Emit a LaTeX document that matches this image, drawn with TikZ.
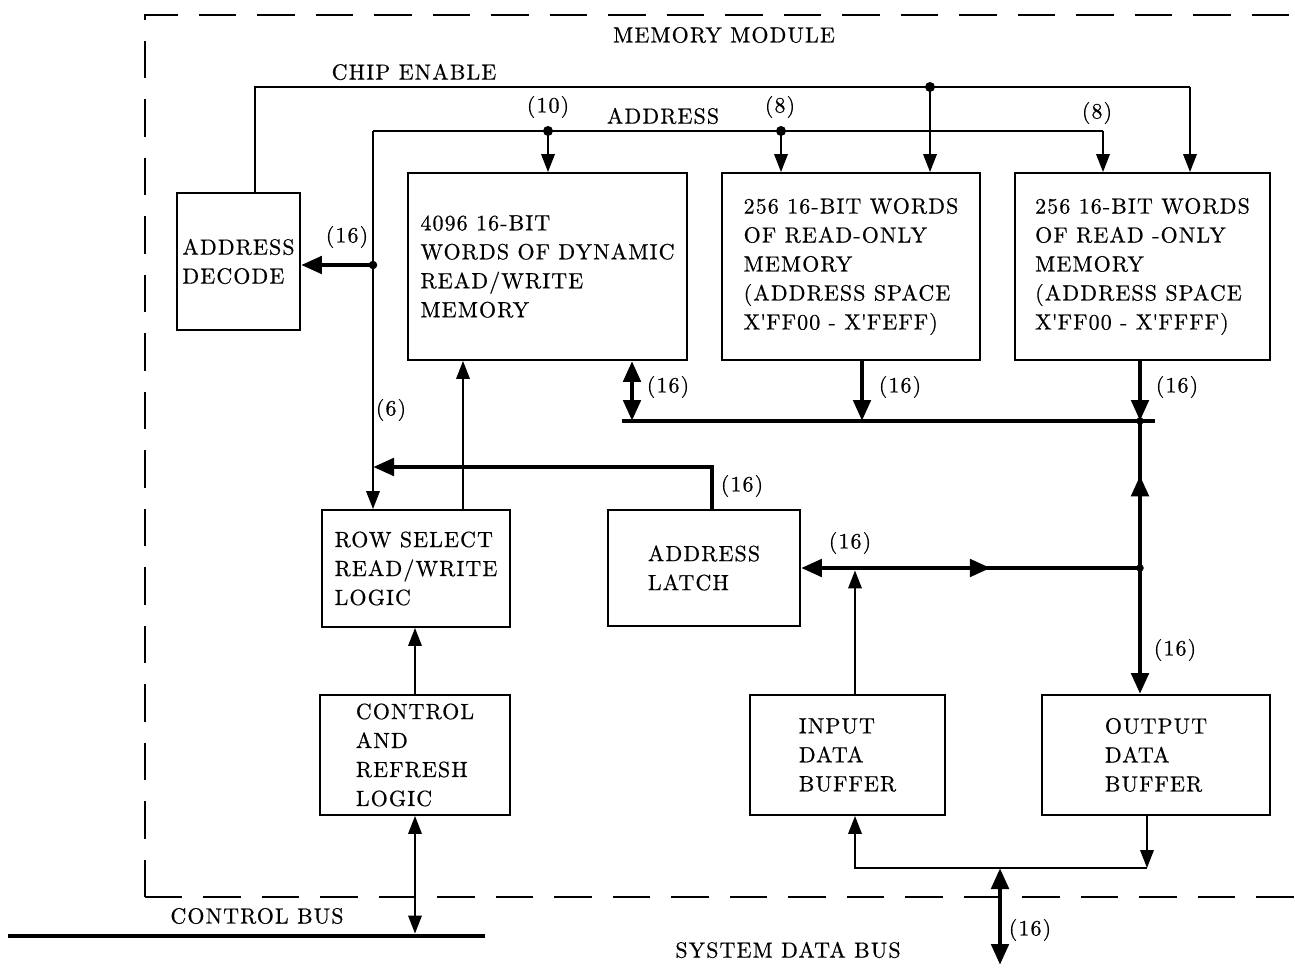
\documentclass[tikz,border=0pt]{standalone}
\usepackage{fontspec}
\setmainfont{lmroman10-regular.otf}[LetterSpace=5, FakeBold=0.6]
\usetikzlibrary{arrows.meta,calc,decorations.markings}

\begin{document}
\begin{tikzpicture}[x=0.02cm, y=-0.02cm,
    font=\fontsize{12.5}{16.5}\selectfont,
    box/.style={draw, line width=1.1pt, align=left, inner sep=0pt},
    lbl/.style={inner sep=1pt},
    wire/.style={line width=1.1pt},
    arr/.style={wire, -{Triangle[length=0.36cm, width=0.27cm]}},
    biarr/.style={wire, {Triangle[length=0.36cm, width=0.27cm]}-{Triangle[length=0.36cm, width=0.27cm]}},
    bus/.style={line width=2.8pt},
    busarr/.style={bus, -{Triangle[length=0.42cm, width=0.34cm]}},
    busbi/.style={bus, {Triangle[length=0.42cm, width=0.34cm]}-{Triangle[length=0.42cm, width=0.34cm]}},
    midtip/.style={postaction={decorate, decoration={markings,
        mark=at position #1 with {\arrow{Triangle[length=0.42cm, width=0.34cm]}}}}},
    midtiprev/.style={postaction={decorate, decoration={markings,
        mark=at position #1 with {\arrowreversed{Triangle[length=0.42cm, width=0.34cm]}}}}},
    dot/.style={circle, fill, inner sep=0pt, minimum size=0.2cm},
    border/.style={line width=1.1pt, dash pattern=on 0.75cm off 0.42cm},
]
\useasboundingbox (0,0) rectangle (1295,969);

% module outline (open to the right)
\coordinate (frameTL) at (145,15);
\coordinate (frameBL) at (145,897);
\draw[border] (frameBL) -- (frameTL) -- (1295,15);
\draw[border] (frameBL) -- (1295,897);
\node[lbl] (title) at (724,35) {MEMORY MODULE};

% blocks
\node[box, minimum width=2.46cm, minimum height=2.74cm] (adec) at (238.5,261.5) {ADDRESS\\DECODE};
\node[box, minimum width=5.58cm, minimum height=3.74cm] (ram) at (547.5,266.5)
    {4096 16-BIT\\WORDS OF DYNAMIC\\READ/WRITE\\MEMORY};
\node[box, minimum width=5.16cm, minimum height=3.74cm] (rom1) at (851,266.5)
    {256 16-BIT WORDS\\OF READ-ONLY\\MEMORY\\(ADDRESS SPACE\\X\textquotesingle FF00 - X\textquotesingle FEFF)};
\node[box, minimum width=5.10cm, minimum height=3.74cm] (rom2) at (1142.5,266.5)
    {256 16-BIT WORDS\\OF READ -ONLY\\MEMORY\\(ADDRESS SPACE\\X\textquotesingle FF00 - X\textquotesingle FFFF)};
\node[box, minimum width=3.76cm, minimum height=2.34cm] (rsel) at (416,568.5) {ROW SELECT\\READ/WRITE\\LOGIC};
\node[box, minimum width=3.84cm, minimum height=2.32cm] (latch) at (704,568) {ADDRESS\\LATCH};
\node[box, minimum width=3.80cm, minimum height=2.40cm] (ctrl) at (415,755) {CONTROL\\AND\\REFRESH\\LOGIC};
\node[box, minimum width=3.90cm, minimum height=2.40cm] (inbuf) at (847.5,755) {INPUT\\DATA\\BUFFER};
\node[box, minimum width=4.56cm, minimum height=2.40cm] (outbuf) at (1156,755) {OUTPUT\\DATA\\BUFFER};

% chip enable
\coordinate (ceL) at (255,87);
\coordinate (ceR) at (1190,87);
\node[dot] (ceJ) at (930,87) {};
\node[lbl] (ceTxt) at (414,72) {CHIP ENABLE};
\draw[wire] (adec.north -| ceL) -- (ceL) -- (ceR);
\draw[arr] (ceR) -- (ceR |- rom2.north);
\draw[arr] (ceJ.center) -- (ceJ |- rom1.north);

% address lines
\coordinate (adL) at (373,131);
\coordinate (adR) at (1103,131);
\node[dot] (adJ1) at (548,131) {};
\node[dot] (adJ2) at (781,131) {};
\node[dot, minimum size=0.17cm] (adJ3) at (373,265) {};
\node[lbl] (adTxt) at (663,116) {ADDRESS};
\draw[wire] (adL) -- (adR);
\draw[arr] (adR) -- (adR |- rom2.north);
\draw[arr] (adJ1.center) -- (adJ1 |- ram.north);
\draw[arr] (adJ2.center) -- (adJ2 |- rom1.north);
\draw[arr] (adL) -- (adL |- rsel.north);
\draw[busarr] (adJ3.center) -- (adJ3 -| adec.east);
\node[lbl] (w10) at (548,107) {(10)};
\node[lbl] (w8a) at (780,107) {(8)};
\node[lbl] (w8b) at (1097,113) {(8)};
\node[lbl] (w16a) at (347,237) {(16)};
\node[lbl] (w6) at (391,410) {(6)};

% internal data bus
\coordinate (busL) at (622,421);
\coordinate (busR) at (1155,421);
\coordinate (busJ) at (1140,421);
\coordinate (ramIO) at (632,421);
\coordinate (rom1O) at (862,421);
\draw[bus] (busL) -- (busR);
\draw[busbi] (ram.south -| ramIO) -- (ramIO);
\draw[busarr] (rom1.south -| rom1O) -- (rom1O);
\draw[busarr] (rom2.south -| busJ) -- (busJ);
\node[dot, minimum size=0.15cm] (busDot) at (busJ) {};
\node[lbl] (w16b) at (668,387) {(16)};
\node[lbl] (w16c) at (900,387) {(16)};
\node[lbl] (w16d) at (1177,387) {(16)};

% data path to buffers and latch
\coordinate (dataJ) at (1140,568);
\coordinate (inJ) at (855,568);
\draw[bus, midtip=0.63] (dataJ) -- (busJ);
\draw[busarr] (dataJ) -- (dataJ |- outbuf.north);
\draw[busarr, midtiprev=0.44] (dataJ) -- (dataJ -| latch.east);
\node[dot, minimum size=0.15cm] (dataDot) at (dataJ) {};
\draw[arr, shorten >=1.4pt] (inbuf.north -| inJ) -- (inJ);
\node[lbl] (w16e) at (850,543) {(16)};
\node[lbl] (w16f) at (1175,650) {(16)};

% latch to row select
\coordinate (latchUp) at (712,467);
\coordinate (rowIn) at (373,467);
\draw[busarr] (latch.north -| latchUp) -- (latchUp) -- (rowIn);
\node[lbl] (w16g) at (742,486) {(16)};

% row select / control
\coordinate (rwX) at (463,360);
\draw[arr] (rsel.north -| rwX) -- (rwX |- ram.south);
\draw[arr] (ctrl.north) -- (ctrl.north |- rsel.south);

% control bus
\coordinate (cbusL) at (8,936);
\coordinate (cbusR) at (485,936);
\draw[bus] (cbusL) -- (cbusR);
\draw[biarr, shorten >=1.4pt] (ctrl.south) -- (ctrl.south |- cbusL);
\node[lbl] (cbusTxt) at (257,916) {CONTROL BUS};

% system data bus
\coordinate (sysL) at (855,868);
\coordinate (sysR) at (1147,868);
\coordinate (sysJ) at (1000,868);
\coordinate (sysEnd) at (1000,965);
\draw[arr] (sysR) -- (sysL) -- (sysL |- inbuf.south);
\draw[arr] (outbuf.south -| sysR) -- (sysR);
\draw[busbi] (sysJ) -- (sysEnd);
\node[lbl] (w16h) at (1030,930) {(16)};
\node[lbl] (sysTxt) at (788,950) {SYSTEM DATA BUS};

\end{tikzpicture}
\end{document}
